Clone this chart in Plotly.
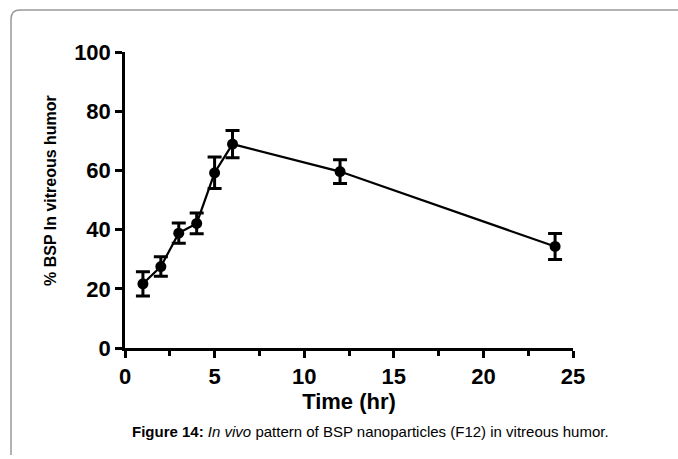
import plotly.graph_objects as go

time_hr = [1, 2, 3, 4, 5, 6, 12, 24]
bsp_pct = [21.7, 27.5, 38.8, 42.1, 59.2, 68.9, 59.6, 34.3]
bsp_err = [4.1, 3.3, 3.4, 3.5, 5.3, 4.6, 4.0, 4.4]

x_ticks = [0, 5, 10, 15, 20, 25]
y_ticks = [0, 20, 40, 60, 80, 100]

W, H = 678, 459
ml, mr, mt, mb = 125, 105, 52, 111
pw, ph = W - ml - mr, H - mt - mb

def px(x):
    return (x - ml) / pw

def py(y):
    return (H - mb - y) / ph

FONT = "Liberation Sans, Arial, sans-serif"

fig = go.Figure()
fig.add_trace(go.Scatter(
    x=time_hr, y=bsp_pct, mode="lines+markers",
    line=dict(color="black", width=2.2),
    marker=dict(color="black", size=11, symbol="circle"),
    error_y=dict(type="data", array=bsp_err, visible=True,
                 color="black", thickness=3, width=7),
    cliponaxis=False, showlegend=False,
))

axis_common = dict(
    showgrid=False, zeroline=False, showline=True, linecolor="black",
    linewidth=2.5, ticks="outside", tickcolor="black", tickwidth=2.5,
    tickfont=dict(family=FONT, size=22, color="black", weight="bold"),
)

fig.update_xaxes(
    range=[0, 25], tickvals=x_ticks, ticklen=7,
    minor=dict(dtick=2.5, tick0=0, ticks="outside", ticklen=5,
               tickwidth=2.5, tickcolor="black"),
    title=dict(text="<b>Time (hr)</b>", font=dict(family=FONT, size=22, color="black"),
               standoff=2),
    **axis_common,
)
fig.update_yaxes(range=[0, 100], tickvals=y_ticks, ticklen=7, **axis_common)

# y-axis title placed as annotation to match reference position
fig.add_annotation(
    xref="paper", yref="paper", x=px(50), y=py(191),
    text="<b>% BSP In vitreous humor</b>", textangle=-90,
    showarrow=False, font=dict(family=FONT, size=16, color="black"),
    xanchor="center", yanchor="middle",
)

# open rounded frame (top + left)
x0, y0 = px(11), py(10)
x_end, y_bot = px(W + 5), py(455)
r_x, r_y = 9 / pw, 9 / ph
frame_path = (f"M {x0},{y_bot} L {x0},{y0 - r_y} "
              f"Q {x0},{y0} {x0 + r_x},{y0} L {x_end},{y0}")
fig.add_shape(type="path", xref="paper", yref="paper", path=frame_path,
              line=dict(color="#999999", width=1.5))

fig.add_annotation(
    xref="paper", yref="paper", x=px(370), y=py(431),
    text="<b>Figure 14:</b> <i>In vivo</i> pattern of BSP nanoparticles (F12) in vitreous humor.",
    showarrow=False, font=dict(family=FONT, size=15, color="black"),
    xanchor="center", yanchor="middle",
)

fig.update_layout(
    width=W, height=H, margin=dict(l=ml, r=mr, t=mt, b=mb),
    paper_bgcolor="white", plot_bgcolor="white",
)

fig.write_html("out.html")
